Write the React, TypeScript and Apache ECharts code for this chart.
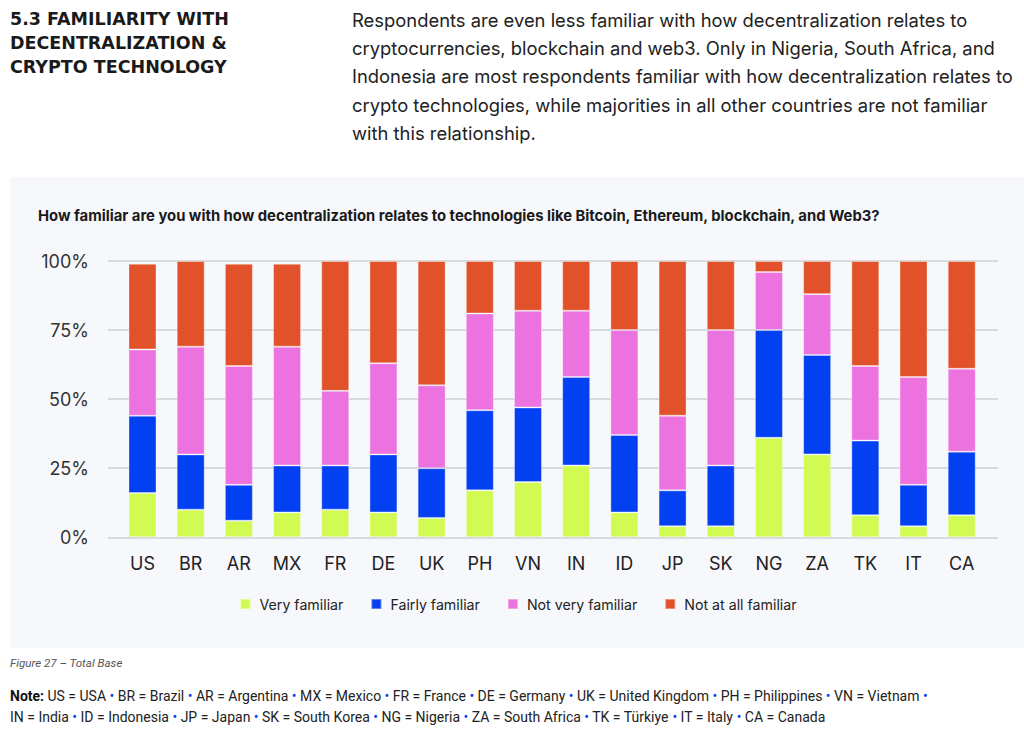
import React, { useEffect, useRef } from "react";
import * as echarts from "echarts";

const categories = ["US", "BR", "AR", "MX", "FR", "DE", "UK", "PH", "VN", "IN", "ID", "JP", "SK", "NG", "ZA", "TK", "IT", "CA"];
const veryFamiliar = [16, 10, 6, 9, 10, 9, 7, 17, 20, 26, 9, 4, 4, 36, 30, 8, 4, 8];
const fairlyFamiliar = [28, 20, 13, 17, 16, 21, 18, 29, 27, 32, 28, 13, 22, 39, 36, 27, 15, 23];
const notVeryFamiliar = [24, 39, 43, 43, 27, 33, 30, 35, 35, 24, 38, 27, 49, 21, 22, 27, 39, 30];
const notAtAllFamiliar = [31, 31, 37, 30, 47, 37, 45, 19, 18, 18, 25, 56, 25, 4, 12, 38, 42, 39];
const yTicks = [0, 25, 50, 75, 100];

const seriesNames = ["Very familiar", "Fairly familiar", "Not very familiar", "Not at all familiar"];
const seriesColors = ["#D1FA52", "#0340F2", "#EC72E0", "#E1522A"];

const headingLines = ["5.3 FAMILIARITY WITH", "DECENTRALIZATION &", "CRYPTO TECHNOLOGY"];
const paragraphLines = [
  "Respondents are even less familiar with how decentralization relates to",
  "cryptocurrencies, blockchain and web3. Only in Nigeria, South Africa, and",
  "Indonesia are most respondents familiar with how decentralization relates to",
  "crypto technologies, while majorities in all other countries are not familiar",
  "with this relationship.",
];
const chartTitle =
  "How familiar are you with how decentralization relates to technologies like Bitcoin, Ethereum, blockchain, and Web3?";
const figureCaption = "Figure 27 \u2013 Total Base";
const noteLine1 = [
  ["US", "USA"], ["BR", "Brazil"], ["AR", "Argentina"], ["MX", "Mexico"], ["FR", "France"],
  ["DE", "Germany"], ["UK", "United Kingdom"], ["PH", "Philippines"], ["VN", "Vietnam"],
];
const noteLine2 = [
  ["IN", "India"], ["ID", "Indonesia"], ["JP", "Japan"], ["SK", "South Korea"], ["NG", "Nigeria"],
  ["ZA", "South Africa"], ["TK", "T\u00fcrkiye"], ["IT", "Italy"], ["CA", "Canada"],
];

const CHART_FONT = "Inter, 'Noto Sans', sans-serif";
const TEXT_FONT = "Roboto, 'Noto Sans', sans-serif";

export default function App() {
  const ref = useRef<HTMLDivElement>(null);

  useEffect(() => {
    if (!ref.current) return;
    const chart = echarts.init(ref.current, undefined, { renderer: "svg" });
    const seriesData = [veryFamiliar, fairlyFamiliar, notVeryFamiliar, notAtAllFamiliar];

    const noteSize = 14;
    const note1 =
      "{b|Note:} " + noteLine1.map(([a, b]) => `${a} = ${b}`).join(" {d|\u2022} ") + " {d|\u2022}";
    const note2 = noteLine2.map(([a, b]) => `${a} = ${b}`).join(" {d|\u2022} ");
    const noteRich = {
      b: { fontWeight: "bold", fontSize: noteSize, fontFamily: TEXT_FONT, fill: "#111" },
      d: { fontSize: noteSize, fontFamily: TEXT_FONT, fill: "#0340F2" },
    };

    const graphics: any[] = [
      {
        type: "rect",
        z: -10,
        shape: { x: 10, y: 177, width: 1014, height: 471 },
        style: { fill: "#F7F8FC" },
        silent: true,
      },
      ...headingLines.map((t, i) => ({
        type: "text",
        x: 10,
        y: 19 + i * 24,
        style: {
          text: t,
          fontSize: 17.5,
          fontWeight: "bold",
          fontFamily: "'DejaVu Sans', sans-serif",
          fill: "#1a1a1a",
          verticalAlign: "middle",
        },
      })),
      ...paragraphLines.map((t, i) => ({
        type: "text",
        x: 352,
        y: 20 + i * 28.2,
        style: {
          text: t,
          fontSize: 18.4,
          fontFamily: CHART_FONT,
          fill: "#222",
          verticalAlign: "middle",
        },
      })),
      {
        type: "text",
        x: 38,
        y: 216,
        style: {
          text: chartTitle,
          fontSize: 14.8,
          fontWeight: "bold",
          fontFamily: CHART_FONT,
          fill: "#1a1a1a",
          verticalAlign: "middle",
        },
      },
      {
        type: "text",
        x: 10,
        y: 663,
        style: {
          text: figureCaption,
          fontSize: 11.6,
          fontStyle: "italic",
          fontFamily: TEXT_FONT,
          fill: "#555",
          verticalAlign: "middle",
        },
      },
      {
        type: "text",
        x: 10,
        y: 696,
        style: {
          text: note1,
          rich: noteRich,
          fontSize: noteSize,
          fontFamily: TEXT_FONT,
          fill: "#222",
          verticalAlign: "middle",
        },
      },
      {
        type: "text",
        x: 10,
        y: 717,
        style: {
          text: note2,
          rich: noteRich,
          fontSize: noteSize,
          fontFamily: TEXT_FONT,
          fill: "#222",
          verticalAlign: "middle",
        },
      },
    ];

    chart.setOption({
      animation: false,
      backgroundColor: "#ffffff",
      textStyle: { fontFamily: CHART_FONT },
      grid: [
        { left: 108, right: 26, top: 261, bottom: 215.7 },
        { left: 118.4, width: 867.4, top: 261, bottom: 215.7 },
      ],
      xAxis: [
        { type: "value", gridIndex: 0, show: false, min: 0, max: 1 },
        {
          type: "category",
          gridIndex: 1,
          data: categories,
          axisLine: { show: false },
          axisTick: { show: false },
          axisLabel: { color: "#222", fontSize: 18, margin: 17, fontFamily: CHART_FONT },
        },
      ],
      yAxis: [
        {
          type: "value",
          gridIndex: 0,
          min: 0,
          max: 100,
          interval: 25,
          axisLine: { show: false },
          axisTick: { show: false },
          axisLabel: {
            color: "#333",
            fontSize: 18,
            margin: 19,
            fontFamily: CHART_FONT,
            formatter: (v: number) => (yTicks.includes(v) ? `${v}%` : ""),
          },
          splitLine: { lineStyle: { color: "#D9DADF", width: 2 } },
        },
        { type: "value", gridIndex: 1, min: 0, max: 100, show: false },
      ],
      legend: {
        data: seriesNames,
        left: 239.5,
        top: 597,
        padding: 0,
        icon: "rect",
        itemWidth: 10,
        itemHeight: 10,
        itemGap: 27,
        textStyle: { fontSize: 14.2, color: "#222", fontFamily: CHART_FONT, padding: [0, 0, 0, 4] },
      },
      series: seriesNames.map((name, i) => ({
        name,
        type: "bar",
        stack: "total",
        xAxisIndex: 1,
        yAxisIndex: 1,
        barWidth: 28,
        data: seriesData[i],
        itemStyle: {
          color: seriesColors[i],
          borderColor: "rgba(255,255,255,0.35)",
          borderWidth: 1,
        },
      })),
      graphic: { elements: graphics },
    });

    return () => chart.dispose();
  }, []);

  return (
    <div
      ref={ref}
      style={{ position: "absolute", left: 0, top: 0, width: 1024, height: 753 }}
    />
  );
}
